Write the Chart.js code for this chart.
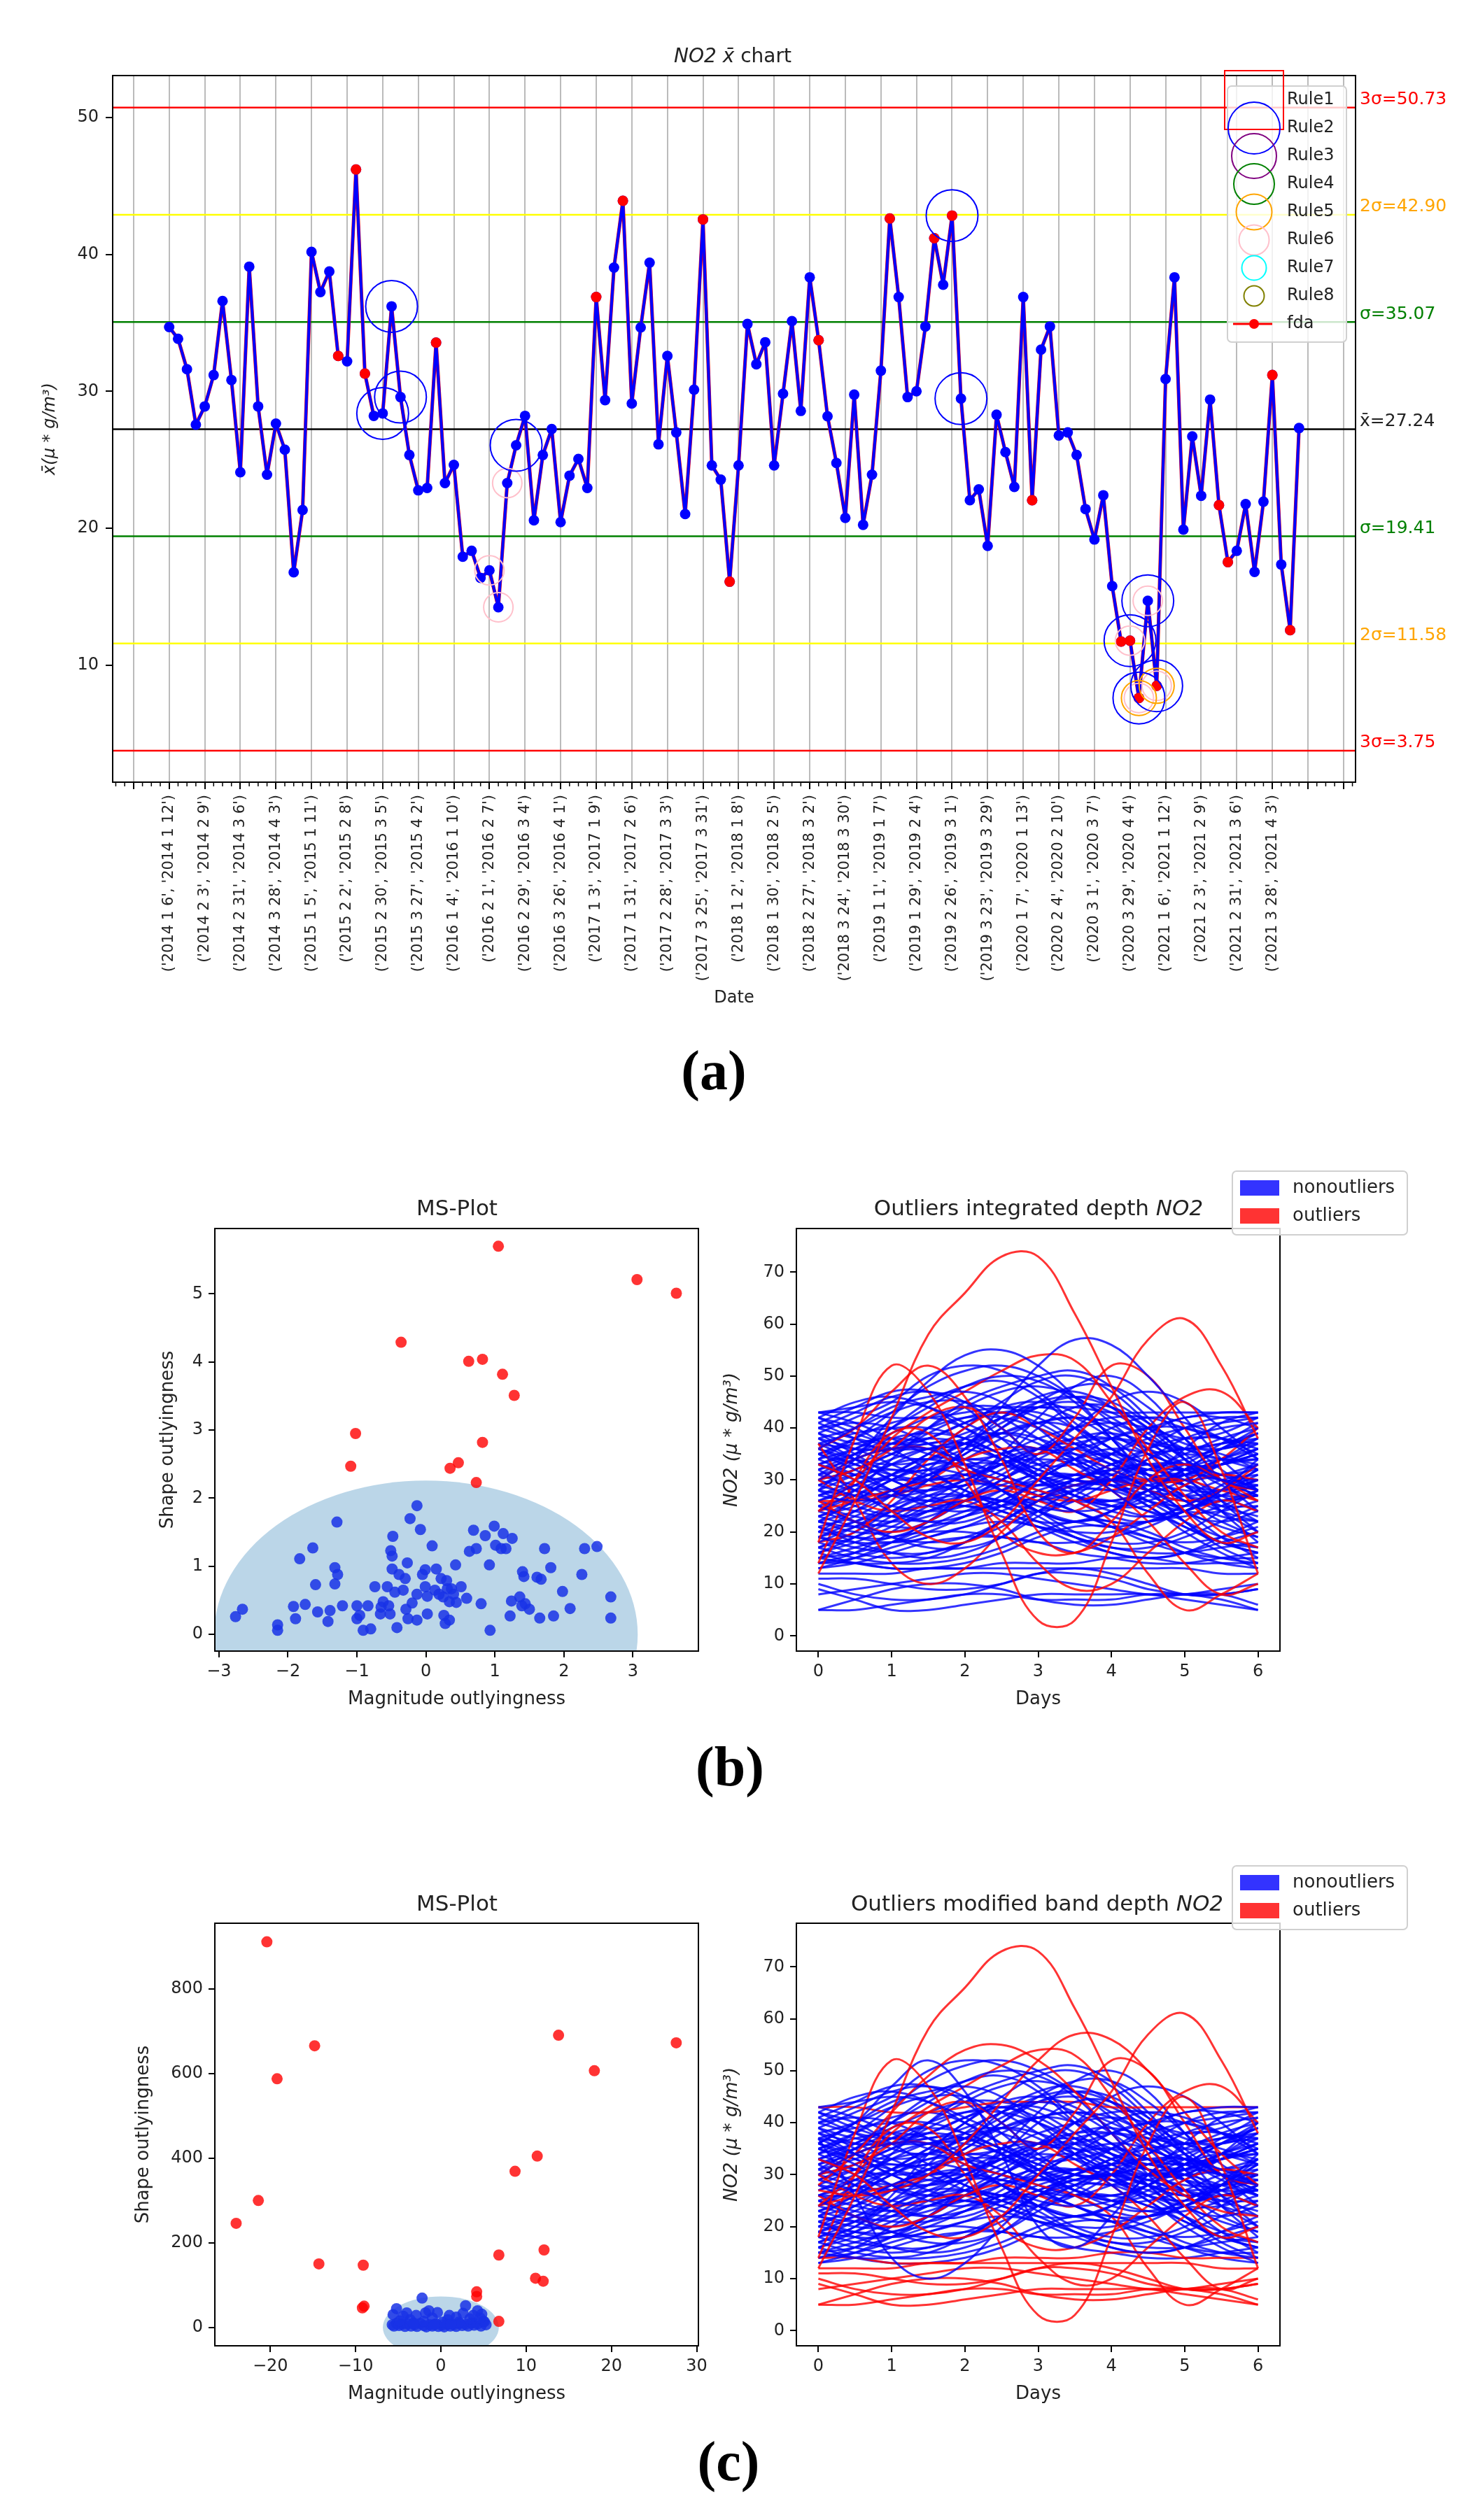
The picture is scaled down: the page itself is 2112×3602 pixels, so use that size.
<!DOCTYPE html>
<html>
<head>
<meta charset="utf-8">
<title>NO2 x̄ chart</title>
<script src="https://cdn.jsdelivr.net/npm/chart.js@4.4.1/dist/chart.umd.min.js"></script>
<style>
  body { margin: 0; width: 2112px; height: 3602px; background: #fff; position: relative; overflow: hidden; font-family: "DejaVu Sans", sans-serif; color: #222; }
  canvas { position: absolute; }
  .txt { position: absolute; transform: translate(-50%, -50%); white-space: nowrap; }
  .panel { font-family: "Liberation Serif", serif; font-weight: bold; font-size: 80px; color: #000; }
</style>
</head>
<body>
<canvas id="xbar" width="2112" height="1470" style="left:0;top:0"></canvas>
<canvas id="msB" width="900" height="790" style="left:150px;top:1690px"></canvas>
<canvas id="curvesB" width="1112" height="830" style="left:1000px;top:1650px"></canvas>
<canvas id="msC" width="900" height="790" style="left:150px;top:2683px"></canvas>
<canvas id="curvesC" width="1112" height="830" style="left:1000px;top:2643px"></canvas>

<div class="txt" style="left:1047px;top:79px;font-size:28px"><i>NO2 x&#772;</i> chart</div>
<div class="txt" style="left:653px;top:1726px;font-size:31px">MS-Plot</div>
<div class="txt" style="left:1484px;top:1726px;font-size:31px">Outliers integrated depth <i>NO2</i></div>
<div class="txt" style="left:653px;top:2720px;font-size:31px">MS-Plot</div>
<div class="txt" style="left:1482px;top:2720px;font-size:31px">Outliers modified band depth <i>NO2</i></div>
<div class="txt panel" style="left:1020px;top:1530px">(a)</div>
<div class="txt panel" style="left:1043px;top:2525px">(b)</div>
<div class="txt panel" style="left:1041px;top:3518px">(c)</div>

<script>
// ---- (a) weekly mean chart ----
const weekLabels = [
  "('2014 1 6', '2014 1 12')", "('2014 2 3', '2014 2 9')", "('2014 2 31', '2014 3 6')", "('2014 3 28', '2014 4 3')",
  "('2015 1 5', '2015 1 11')", "('2015 2 2', '2015 2 8')", "('2015 2 30', '2015 3 5')", "('2015 3 27', '2015 4 2')",
  "('2016 1 4', '2016 1 10')", "('2016 2 1', '2016 2 7')", "('2016 2 29', '2016 3 4')", "('2016 3 26', '2016 4 1')",
  "('2017 1 3', '2017 1 9')", "('2017 1 31', '2017 2 6')", "('2017 2 28', '2017 3 3')", "('2017 3 25', '2017 3 31')",
  "('2018 1 2', '2018 1 8')", "('2018 1 30', '2018 2 5')", "('2018 2 27', '2018 3 2')", "('2018 3 24', '2018 3 30')",
  "('2019 1 1', '2019 1 7')", "('2019 1 29', '2019 2 4')", "('2019 2 26', '2019 3 1')", "('2019 3 23', '2019 3 29')",
  "('2020 1 7', '2020 1 13')", "('2020 2 4', '2020 2 10')", "('2020 3 1', '2020 3 7')", "('2020 3 29', '2020 4 4')",
  "('2021 1 6', '2021 1 12')", "('2021 2 3', '2021 2 9')", "('2021 2 31', '2021 3 6')", "('2021 3 28', '2021 4 3')"
];

const xbarValues = [
  34.70, 33.84, 31.62, 27.57, 28.90, 31.19, 36.60, 30.83, 24.09, 39.11,
  28.90, 23.91, 27.64, 25.74, 16.78, 21.33, 40.19, 37.25, 38.76, 32.59,
  32.19, 46.21, 31.30, 28.21, 28.39, 36.21, 29.58, 25.35, 22.77, 22.94,
  33.56, 23.30, 24.63, 17.92, 18.35, 16.38, 16.92, 14.23, 23.30, 26.06,
  28.21, 20.58, 25.35, 27.25, 20.45, 23.84, 25.06, 22.94, 36.89, 29.36,
  39.04, 43.92, 29.11, 34.67, 39.40, 26.13, 32.59, 27.00, 21.04, 30.12,
  42.56, 24.59, 23.55, 16.10, 24.59, 34.92, 31.98, 33.59, 24.59, 29.83,
  35.13, 28.57, 38.33, 33.74, 28.18, 24.77, 20.76, 29.76, 20.25, 23.91,
  31.51, 42.63, 36.89, 29.58, 30.01, 34.74, 41.19, 37.79, 42.84, 29.47,
  22.05, 22.84, 18.71, 28.29, 25.56, 23.02, 36.89, 22.05, 33.05, 34.74,
  26.78, 27.00, 25.35, 21.40, 19.18, 22.41, 15.77, 11.72, 11.79, 7.60,
  14.70, 8.49, 30.90, 38.33, 19.90, 26.71, 22.37, 29.40, 21.69, 17.53,
  18.35, 21.76, 16.81, 21.94, 31.19, 17.35, 12.55, 27.32
];

const fdaIdx = [19, 21, 22, 30, 48, 51, 60, 63, 73, 81, 86, 88, 97, 107, 108, 109, 111, 118, 119, 124, 126];
const rule2Idx = [24, 25, 26, 39, 88, 89, 108, 109, 110, 111];
const rule5Idx = [109, 111];
const rule6Idx = [36, 37, 38, 108, 109, 110, 111];

const limitValues = [50.73, 42.90, 35.07, 27.24, 19.41, 11.58, 3.75];
const limitLabels = ['3σ=50.73', '2σ=42.90', 'σ=35.07', 'x\u0304=27.24', 'σ=19.41', '2σ=11.58', '3σ=3.75'];
const limitLineColors = ['red', 'yellow', 'green', 'black', 'green', 'yellow', 'red'];
const limitTextColors = ['red', 'orange', 'green', '#222', 'green', 'orange', 'red'];
const yTicksA = [10, 20, 30, 40, 50];

const ruleNames = ['Rule1', 'Rule2', 'Rule3', 'Rule4', 'Rule5', 'Rule6', 'Rule7', 'Rule8', 'fda'];
const ruleColors = ['red', 'blue', 'purple', 'green', 'orange', 'pink', 'cyan', 'olive', 'red'];
const ruleSizes = [42, 37, 32, 29, 25.5, 21.5, 17.5, 14.5, 7];

// ---- (b), (c) MS plots ----
const msInB = [
  [-2.76,0.26],[-2.66,0.37],[-2.15,0.14],[-2.15,0.06],[-1.92,0.41],[-1.89,0.23],[-1.83,1.11],[-1.75,0.44],
  [-1.64,1.27],[-1.60,0.73],[-1.57,0.33],[-1.42,0.19],[-1.39,0.35],[-1.32,0.98],[-1.32,0.74],[-1.28,0.88],
  [-1.29,1.65],[-1.21,0.42],[-1.00,0.42],[-1.00,0.23],[-0.96,0.28],[-0.91,0.06],[-0.84,0.42],[-0.80,0.08],
  [-0.74,0.70],[-0.66,0.30],[-0.62,0.48],[-0.56,0.70],[-0.52,0.30],[-0.51,1.23],[-0.49,1.15],[-0.49,0.96],
  [-0.48,1.44],[-0.45,0.62],[-0.42,0.10],[-0.39,0.88],[-0.30,0.82],[-0.29,0.37],[-0.27,1.05],[-0.26,0.23],
  [-0.23,1.70],[-0.20,0.46],[-0.13,0.21],[-0.13,1.89],[-0.13,0.59],[-0.08,1.54],[-0.05,0.88],[-0.01,0.95],
  [0.02,0.56],[0.02,0.30],[0.09,1.30],[0.15,0.96],[0.19,0.59],[0.22,0.82],[0.25,0.55],[0.26,0.28],
  [0.28,0.16],[0.30,0.79],[0.34,0.21],[0.34,0.48],[0.37,0.67],[0.43,1.02],[0.44,0.47],[0.51,0.70],
  [0.59,0.53],[0.63,1.22],[0.69,1.53],[0.73,1.26],[0.80,0.45],[0.86,1.45],[0.92,1.02],[0.93,0.06],
  [0.99,1.59],[1.01,1.31],[1.09,1.26],[1.12,1.48],[1.16,1.26],[1.25,1.41],[1.22,0.27],[1.24,0.49],
  [1.36,0.55],[1.39,0.42],[1.40,0.92],[1.42,0.85],[1.44,0.45],[1.50,0.37],[1.61,0.84],[1.65,0.24],
  [1.67,0.81],[1.72,1.26],[1.81,0.98],[1.85,0.27],[1.98,0.63],[2.09,0.38],[2.26,0.88],[2.30,1.26],
  [2.48,1.29],[2.68,0.55],[2.68,0.24],[0.13,0.65],[0.40,0.59],[0.31,0.67],[-0.33,0.65],[-0.65,0.40],
  [-0.54,0.42],[-0.01,0.70]
];
const msOutB = [
  [1.05,5.70],[3.06,5.21],[3.63,5.01],[-0.36,4.29],[0.62,4.01],[0.82,4.04],[1.11,3.82],
  [1.28,3.51],[-1.02,2.95],[0.82,2.82],[-1.09,2.47],[0.35,2.44],[0.47,2.52],[0.73,2.23]
];
const msEllipseB = [0, 0, 3.07, 2.26];
const msTicksBX = [-3, -2, -1, 0, 1, 2, 3];
const msTicksBY = [0, 1, 2, 3, 4, 5];

const msInC = [
  [-5.7,6],[-5.5,3],[-5.2,9],[-4.9,4],[-4.6,7],[-4.2,2],[-3.9,8],[-3.5,3],[-3.1,6],[-2.8,2],[-2.4,9],
  [-2.0,4],[-1.7,1],[-1.3,6],[-1.0,3],[-0.6,8],[-0.3,2],[0.1,5],[0.4,1],[0.8,7],[1.1,3],[1.5,6],
  [1.8,2],[2.2,9],[2.5,4],[2.9,7],[3.2,3],[3.6,10],[3.9,5],[4.3,8],[4.7,3],[5.0,14],[5.3,6],
  [-2.2,69],[-5.2,44],[-5.6,30],[-4.4,26],[-2.9,28],[-1.4,39],[-0.4,35],[2.9,51],[2.6,33],[4.3,39],
  [4.8,31],[5.1,13],[-3.6,18],[-1.0,22],[0.8,18],[1.8,24],[3.4,20],[-4.8,15],[2.1,12],[-2.0,14],
  [0.2,12],[1.2,8],[3.8,28],[-3.2,10],[4.6,22],[-0.8,6],[-1.8,34],[1.0,28],[-4.0,34]
];
const msOutC = [
  [-20.4,912],[-24.0,246],[-21.4,300],[-14.8,666],[-19.2,588],[-14.3,150],[-9.1,147],[-9.2,46],
  [-9.0,50],[6.8,171],[6.8,14],[4.2,84],[4.2,73],[8.7,369],[11.3,405],[13.8,691],[18.0,607],
  [27.6,673],[12.1,183],[11.1,116],[12.0,109]
];
const msEllipseC = [0, 0, 6.8, 73];
const msTicksCX = [-20, -10, 0, 10, 20, 30];
const msTicksCY = [0, 200, 400, 600, 800];

// ---- (b), (c) weekly daily curves ----
const days = [0, 0.5, 1, 1.5, 2, 2.5, 3, 3.5, 4, 4.5, 5, 5.5, 6];
const dayTicks = [0, 1, 2, 3, 4, 5, 6];
const no2Ticks = [0, 10, 20, 30, 40, 50, 60, 70];
const curves = [
  [12, 26, 42, 58, 66, 73, 73, 62, 48, 34, 24, 18, 20],
  [43, 44, 45, 44, 41, 38, 36, 36, 38, 40, 42, 43, 43],
  [40, 43, 46, 47, 45, 40, 34, 30, 30, 34, 38, 40, 41],
  [33, 30, 24, 19, 18, 22, 30, 38, 46, 57, 61, 52, 38],
  [38, 34, 30, 28, 30, 34, 40, 44, 44, 40, 34, 30, 28],
  [36, 40, 44, 46, 47, 45, 40, 34, 28, 24, 24, 28, 34],
  [35, 32, 28, 25, 24, 26, 30, 34, 36, 35, 32, 30, 30],
  [18, 38, 52, 47, 33, 16, 3, 3, 18, 36, 45, 32, 12],
  [33, 36, 40, 44, 48, 50, 49, 45, 38, 30, 24, 22, 24],
  [32, 28, 24, 22, 22, 25, 30, 34, 38, 40, 40, 38, 35],
  [30, 34, 36, 36, 33, 28, 24, 22, 24, 28, 32, 34, 33],
  [36, 40, 47, 52, 46, 34, 20, 16, 22, 30, 33, 30, 26],
  [29, 27, 25, 24, 25, 28, 32, 36, 40, 42, 41, 38, 34],
  [28, 34, 42, 49, 54, 55, 52, 46, 38, 31, 26, 23, 22],
  [27, 26, 27, 30, 36, 44, 52, 57, 56, 50, 42, 34, 28],
  [26, 29, 33, 36, 37, 35, 31, 27, 24, 23, 25, 29, 33],
  [24, 30, 38, 43, 47, 51, 54, 53, 45, 36, 27, 20, 17],
  [25, 22, 19, 17, 17, 19, 23, 27, 31, 33, 33, 31, 28],
  [24, 28, 34, 40, 45, 48, 50, 51, 48, 42, 34, 26, 20],
  [23, 21, 19, 18, 19, 22, 26, 30, 32, 32, 30, 26, 22],
  [30, 32, 36, 42, 44, 40, 35, 42, 52, 50, 40, 30, 28],
  [22, 26, 30, 32, 31, 28, 24, 20, 18, 18, 20, 24, 28],
  [21, 18, 16, 15, 16, 19, 24, 28, 30, 29, 26, 22, 19],
  [20, 24, 28, 30, 30, 28, 25, 24, 25, 28, 32, 36, 40],
  [26, 22, 20, 22, 26, 28, 26, 24, 30, 40, 46, 47, 40],
  [19, 17, 16, 16, 18, 22, 26, 29, 30, 28, 24, 19, 15],
  [18, 21, 25, 30, 36, 42, 46, 47, 44, 38, 31, 24, 18],
  [17, 15, 14, 14, 15, 17, 20, 22, 22, 20, 17, 15, 14],
  [14, 30, 39, 39, 30, 20, 16, 16, 19, 24, 29, 31, 30],
  [16, 19, 23, 26, 27, 26, 24, 22, 21, 22, 24, 27, 30],
  [15, 14, 14, 15, 18, 22, 26, 28, 28, 25, 20, 16, 13],
  [14, 16, 20, 24, 26, 26, 23, 19, 16, 15, 16, 18, 20],
  [37, 26, 14, 10, 13, 20, 26, 29, 30, 28, 26, 28, 33],
  [13, 15, 18, 22, 26, 30, 33, 34, 32, 28, 22, 17, 14],
  [42, 40, 36, 32, 28, 26, 26, 28, 32, 36, 40, 42, 42],
  [41, 44, 47, 47, 44, 38, 33, 30, 30, 32, 34, 36, 37],
  [30, 34, 36, 36, 32, 30, 28, 26, 22, 12, 5, 8, 12],
  [39, 42, 45, 50, 52, 51, 47, 41, 36, 33, 32, 33, 35],
  [37, 34, 32, 32, 35, 40, 45, 48, 48, 44, 38, 32, 28],
  [34, 38, 43, 48, 51, 52, 50, 46, 42, 38, 36, 34, 32],
  [24, 26, 28, 30, 34, 36, 36, 32, 28, 22, 14, 8, 10],
  [31, 35, 40, 45, 48, 49, 46, 40, 34, 28, 22, 18, 16],
  [27, 30, 33, 34, 32, 28, 24, 22, 24, 30, 36, 41, 43],
  [22, 20, 20, 22, 26, 30, 35, 40, 45, 47, 45, 40, 34],
  [30, 26, 24, 25, 26, 22, 14, 9, 10, 16, 22, 26, 24],
  [20, 19, 19, 22, 28, 35, 42, 48, 50, 46, 38, 30, 24],
  [33, 30, 27, 26, 27, 30, 34, 37, 38, 37, 36, 37, 39],
  [29, 31, 32, 31, 28, 25, 24, 26, 30, 34, 36, 35, 32],
  [18, 20, 26, 34, 40, 43, 40, 36, 32, 30, 30, 34, 40],
  [35, 37, 38, 37, 34, 31, 29, 30, 33, 36, 38, 38, 36],
  [25, 23, 22, 23, 26, 29, 31, 31, 29, 26, 24, 24, 26],
  [19, 22, 25, 27, 27, 25, 22, 19, 17, 17, 19, 22, 25],
  [26, 26, 27, 29, 30, 29, 27, 26, 28, 30, 30, 28, 26],
  [38, 36, 33, 30, 27, 24, 22, 22, 24, 27, 30, 33, 36],
  [17, 19, 22, 26, 30, 33, 34, 33, 30, 26, 22, 19, 17],
  [14, 14, 13, 13, 13, 14, 14, 14, 15, 15, 14, 14, 14],
  [40, 38, 37, 38, 41, 44, 45, 43, 39, 35, 33, 33, 35],
  [32, 34, 37, 40, 42, 42, 40, 37, 34, 32, 31, 31, 32],
  [21, 23, 27, 32, 38, 42, 44, 42, 38, 33, 29, 27, 27],
  [5, 5, 6, 7, 8, 8, 7, 7, 7, 8, 8, 7, 5],
  [5, 7, 9, 10, 10, 9, 7, 6, 6, 7, 8, 8, 6],
  [9, 7, 5, 5, 6, 7, 8, 8, 8, 8, 7, 6, 5],
  [10, 8, 7, 7, 8, 10, 12, 12, 11, 9, 8, 8, 9],
  [11, 11, 10, 9, 9, 10, 12, 13, 12, 10, 8, 8, 9],
  [8, 9, 10, 11, 12, 12, 11, 10, 9, 8, 8, 9, 10],
  [43, 43, 42, 42, 43, 44, 44, 44, 43, 43, 43, 43, 43],
  [12, 12, 12, 13, 13, 13, 13, 13, 13, 13, 13, 12, 12],
  [16, 14, 13, 13, 14, 16, 19, 21, 21, 19, 16, 14, 13],
  [43, 41, 38, 35, 34, 35, 38, 40, 41, 40, 38, 39, 42],
  [39, 37, 36, 36, 37, 39, 41, 42, 41, 38, 35, 36, 39],
  [15, 17, 19, 20, 20, 19, 18, 18, 19, 21, 24, 26, 27],
  [36, 33, 31, 30, 31, 33, 35, 35, 33, 30, 28, 28, 30],
  [23, 26, 30, 33, 34, 33, 30, 27, 25, 25, 27, 30, 31],
  [28, 25, 23, 22, 23, 25, 28, 30, 32, 33, 32, 30, 29],
  [34, 31, 28, 26, 26, 28, 30, 31, 30, 28, 27, 28, 31],
  [31, 29, 28, 28, 30, 33, 36, 38, 38, 36, 33, 31, 30],
  [42, 45, 46, 44, 40, 36, 33, 33, 35, 38, 40, 41, 42],
  [41, 38, 35, 34, 36, 40, 44, 46, 45, 41, 37, 36, 38],
  [40, 41, 40, 37, 33, 30, 29, 31, 35, 39, 42, 42, 40],
  [39, 35, 31, 29, 29, 32, 36, 40, 42, 42, 40, 38, 37],
  [38, 40, 43, 45, 45, 42, 38, 34, 31, 30, 31, 34, 38],
  [37, 39, 40, 40, 38, 35, 32, 30, 29, 30, 33, 37, 41],
  [36, 34, 33, 34, 37, 41, 44, 45, 43, 39, 34, 30, 27],
  [35, 38, 41, 42, 40, 36, 31, 27, 25, 26, 29, 33, 36],
  [34, 36, 39, 42, 44, 44, 42, 38, 34, 31, 30, 31, 33],
  [33, 31, 30, 31, 34, 38, 41, 42, 40, 36, 31, 27, 24],
  [32, 35, 38, 39, 38, 35, 32, 30, 30, 32, 35, 38, 40],
  [31, 33, 36, 40, 44, 47, 48, 46, 41, 35, 29, 25, 23],
  [30, 28, 27, 28, 31, 34, 36, 36, 34, 31, 29, 28, 29],
  [29, 32, 35, 37, 37, 34, 30, 26, 23, 22, 24, 28, 32],
  [28, 27, 28, 31, 35, 39, 41, 40, 36, 31, 27, 25, 25],
  [27, 29, 31, 33, 33, 31, 28, 26, 26, 28, 31, 34, 36],
  [26, 24, 23, 24, 27, 31, 35, 38, 39, 37, 33, 29, 26],
  [25, 27, 30, 34, 37, 39, 38, 35, 31, 28, 26, 27, 29],
  [24, 22, 21, 21, 23, 26, 29, 31, 31, 29, 27, 26, 27],
  [23, 25, 28, 31, 33, 33, 31, 28, 25, 23, 23, 25, 28],
  [22, 24, 27, 30, 31, 30, 27, 24, 22, 22, 24, 28, 32],
  [21, 19, 18, 19, 21, 24, 27, 29, 29, 27, 24, 21, 19],
  [20, 22, 24, 25, 25, 23, 21, 20, 20, 22, 25, 28, 30],
  [19, 21, 24, 28, 32, 35, 36, 34, 30, 25, 21, 18, 17],
  [18, 16, 15, 16, 18, 21, 24, 26, 26, 24, 21, 18, 16],
  [17, 20, 24, 27, 29, 29, 27, 24, 21, 19, 18, 19, 21],
  [16, 18, 21, 24, 25, 24, 21, 18, 16, 15, 16, 19, 22],
  [15, 16, 18, 21, 24, 26, 26, 24, 21, 18, 16, 15, 15],
  [14, 15, 17, 19, 21, 22, 21, 19, 17, 16, 16, 17, 18],
  [13, 14, 16, 18, 19, 19, 18, 16, 15, 14, 14, 15, 16],
  [42, 39, 37, 37, 39, 42, 45, 46, 44, 40, 36, 34, 34],
  [37, 36, 36, 38, 41, 43, 43, 40, 36, 33, 32, 34, 37],
  [30, 32, 35, 39, 42, 43, 41, 37, 33, 31, 31, 33, 35],
  [26, 28, 31, 35, 40, 45, 49, 50, 47, 41, 35, 30, 27],
  [22, 21, 22, 25, 29, 33, 36, 37, 35, 31, 27, 24, 22],
  [35, 33, 30, 27, 25, 25, 27, 30, 33, 35, 36, 37, 38],
  [28, 31, 34, 36, 36, 34, 31, 29, 28, 29, 31, 33, 34],
  [24, 27, 31, 35, 38, 39, 37, 33, 29, 26, 25, 26, 28],
  [33, 35, 37, 38, 37, 34, 30, 27, 26, 28, 32, 36, 39],
  [19, 18, 18, 20, 23, 27, 31, 34, 35, 33, 29, 24, 20]
];
const outIntegrated = [0, 3, 7, 11, 16, 20, 24, 28, 32, 36, 40, 44, 48, 52];
const outModBand = [0, 3, 7, 13, 14, 16, 20, 24, 28, 36, 40, 44, 55, 59, 60, 61, 62, 63, 64, 65, 66];

const BLUE = 'rgba(0,0,255,0.8)';
const RED = 'rgba(255,0,0,0.8)';

Chart.defaults.font.family = 'DejaVu Sans';
Chart.defaults.color = '#222';
Chart.defaults.animation = false;
Chart.defaults.events = [];
Chart.defaults.plugins.legend.display = false;
Chart.defaults.plugins.tooltip.enabled = false;

const fmt = v => String(v).replace('-', '\u2212');

const frame = {
  id: 'frame',
  afterDraw(chart) {
    const { ctx, chartArea: a } = chart;
    ctx.save();
    ctx.strokeStyle = '#000';
    ctx.lineWidth = 2;
    ctx.strokeRect(a.left, a.top, a.width, a.height);
    ctx.restore();
  }
};

const controlLines = {
  id: 'controlLines',
  beforeDatasetsDraw(chart) {
    const { ctx, chartArea: a, scales: { y } } = chart;
    ctx.save();
    ctx.lineWidth = 2.5;
    limitValues.forEach((v, i) => {
      const py = y.getPixelForValue(v);
      ctx.strokeStyle = limitLineColors[i];
      ctx.beginPath();
      ctx.moveTo(a.left, py);
      ctx.lineTo(a.right, py);
      ctx.stroke();
    });
    ctx.restore();
  }
};

// one small tick for every week between the labelled ones
const minorTicks = {
  id: 'minorTicks',
  afterDraw(chart) {
    const { ctx, chartArea: a, scales: { x } } = chart;
    ctx.save();
    ctx.strokeStyle = '#000';
    ctx.lineWidth = 1.5;
    for (let i = Math.ceil(x.min); i <= Math.floor(x.max); i++) {
      if (i % 4 === 0) continue;
      const px = x.getPixelForValue(i);
      ctx.beginPath();
      ctx.moveTo(px, a.bottom);
      ctx.lineTo(px, a.bottom + 6);
      ctx.stroke();
    }
    ctx.restore();
  }
};

const ruleLegend = {
  id: 'ruleLegend',
  afterDraw(chart) {
    const { ctx, chartArea: a } = chart;
    ctx.save();
    ctx.beginPath();
    ctx.roundRect(a.right - 183, a.top + 15, 170, 366, 6);
    ctx.fillStyle = 'rgba(255,255,255,0.8)';
    ctx.fill();
    ctx.strokeStyle = '#d0d0d0';
    ctx.lineWidth = 2;
    ctx.stroke();
    ctx.font = '24px "DejaVu Sans"';
    ctx.textBaseline = 'middle';
    ruleNames.forEach((name, k) => {
      const cy = a.top + 35 + k * 40;
      const cx = a.right - 145;
      const r = ruleSizes[k];
      ctx.strokeStyle = ruleColors[k];
      ctx.fillStyle = ruleColors[k];
      ctx.lineWidth = 2;
      if (name === 'Rule1') {
        ctx.strokeRect(cx - r, cy - r, 2 * r, 2 * r);
      } else if (name === 'fda') {
        ctx.lineWidth = 3;
        ctx.beginPath();
        ctx.moveTo(cx - 30, cy);
        ctx.lineTo(cx + 26, cy);
        ctx.stroke();
        ctx.beginPath();
        ctx.arc(cx, cy, r, 0, 2 * Math.PI);
        ctx.fill();
      } else {
        ctx.beginPath();
        ctx.arc(cx, cy, r, 0, 2 * Math.PI);
        ctx.stroke();
      }
      ctx.fillStyle = '#222';
      ctx.fillText(name, a.right - 98, cy);
    });
    ctx.restore();
  }
};

function ellipse(params) {
  const [cx, cy, ax, by] = params;
  return {
    id: 'ellipse',
    beforeDatasetsDraw(chart) {
      const { ctx, chartArea: a, scales: { x, y } } = chart;
      const px = x.getPixelForValue(cx), py = y.getPixelForValue(cy);
      const rx = Math.abs(x.getPixelForValue(cx + ax) - px);
      const ry = Math.abs(y.getPixelForValue(cy + by) - py);
      ctx.save();
      ctx.beginPath();
      ctx.rect(a.left, a.top, a.width, a.height);
      ctx.clip();
      ctx.beginPath();
      ctx.ellipse(px, py, rx, ry, 0, 0, 2 * Math.PI);
      ctx.fillStyle = 'rgba(31,119,180,0.3)';
      ctx.fill();
      ctx.restore();
    }
  };
}

const patchLegend = {
  id: 'patchLegend',
  afterDraw(chart) {
    const { ctx, chartArea: a } = chart;
    ctx.save();
    ctx.beginPath();
    ctx.roundRect(a.right - 68, a.top - 82, 250, 91, 6);
    ctx.fillStyle = 'rgba(255,255,255,0.8)';
    ctx.fill();
    ctx.strokeStyle = '#d0d0d0';
    ctx.lineWidth = 2;
    ctx.stroke();
    ctx.font = '26px "DejaVu Sans"';
    ctx.textBaseline = 'middle';
    [['nonoutliers', BLUE], ['outliers', RED]].forEach(([label, color], k) => {
      const cy = a.top - 58 + k * 40;
      ctx.fillStyle = color;
      ctx.fillRect(a.right - 57, cy - 11, 56, 22);
      ctx.fillStyle = '#222';
      ctx.fillText(label, a.right + 18, cy);
    });
    ctx.restore();
  }
};

function bottomAxis(min, max, ticks, height, title, titlePad) {
  return {
    type: 'linear', min, max,
    afterBuildTicks: s => { s.ticks = ticks.map(v => ({ value: v })); },
    afterFit: s => { s.height = height; },
    grid: { drawOnChartArea: false, tickLength: 9, color: '#000', tickColor: '#000', lineWidth: 2 },
    border: { display: false },
    ticks: { font: { size: 24 }, padding: 6, autoSkip: false, maxRotation: 0, callback: v => fmt(v) },
    title: { display: true, text: title, font: { size: 26 }, padding: { top: 0, bottom: titlePad } }
  };
}

function leftAxis(min, max, ticks, width, title, titlePad, italic) {
  return {
    type: 'linear', min, max,
    afterBuildTicks: s => { s.ticks = ticks.map(v => ({ value: v })); },
    afterFit: s => { s.width = width; },
    grid: { drawOnChartArea: false, tickLength: 9, color: '#000', tickColor: '#000', lineWidth: 2 },
    border: { display: false },
    ticks: { font: { size: 24 }, padding: 8, autoSkip: false, callback: v => fmt(v) },
    title: { display: true, text: title, font: { size: 26, style: italic ? 'italic' : 'normal' }, padding: { top: titlePad, bottom: 0 } }
  };
}

// ---------- (a) ----------
const xbarPts = xbarValues.map((v, i) => ({ x: i, y: v }));
const pick = idx => idx.map(i => ({ x: i, y: xbarValues[i] }));
const majorTicks = [];
for (let k = -1; k <= 33; k++) majorTicks.push(k * 4);

function ring(idx, radius, color) {
  return {
    data: pick(idx), pointRadius: radius, pointBorderWidth: 2,
    pointBorderColor: color, pointBackgroundColor: 'rgba(0,0,0,0)', order: 0
  };
}

new Chart(document.getElementById('xbar'), {
  type: 'scatter',
  data: {
    datasets: [
      ring(rule2Idx, 37, 'blue'),
      ring(rule5Idx, 25, 'orange'),
      ring(rule6Idx, 21, 'pink'),
      { data: pick(fdaIdx), pointRadius: 7.5, pointBorderWidth: 0, pointBackgroundColor: 'red', order: 1 },
      { data: xbarPts, showLine: true, borderColor: 'blue', borderWidth: 4, borderJoinStyle: 'round',
        pointRadius: 7.5, pointBorderWidth: 0, pointBackgroundColor: 'blue', order: 2 },
      { data: xbarPts, showLine: true, borderColor: 'red', borderWidth: 5, borderJoinStyle: 'round',
        pointRadius: 0, order: 3 }
    ]
  },
  options: {
    responsive: false,
    devicePixelRatio: 1,
    layout: { padding: { top: 108, left: 0, right: 0, bottom: 0 } },
    scales: {
      x: {
        type: 'linear', min: -6.35, max: 133.35,
        afterBuildTicks: s => { s.ticks = majorTicks.map(v => ({ value: v })); },
        afterFit: s => { s.height = 352; },
        grid: { color: 'rgba(120,120,120,0.5)', lineWidth: 2, tickColor: '#000', tickLength: 10 },
        border: { display: false },
        ticks: { autoSkip: false, minRotation: 90, maxRotation: 90, font: { size: 21 }, padding: 8,
                 callback: v => weekLabels[v / 4] || '' },
        title: { display: true, text: 'Date', font: { size: 24 }, padding: { top: 0, bottom: 29 } }
      },
      y: {
        type: 'linear', min: 1.45, max: 53.07,
        afterBuildTicks: s => { s.ticks = yTicksA.map(v => ({ value: v })); },
        afterFit: s => { s.width = 161; },
        grid: { drawOnChartArea: false, tickLength: 10, color: '#000', tickColor: '#000', lineWidth: 2 },
        border: { display: false },
        ticks: { font: { size: 24 }, padding: 10 },
        title: { display: true, text: 'x\u0304(μ * g/m³)', font: { size: 24, style: 'italic' }, padding: { top: 57, bottom: 0 } }
      },
      y2: {
        type: 'linear', position: 'right', min: 1.45, max: 53.07,
        afterBuildTicks: s => { s.ticks = limitValues.map(v => ({ value: v })); },
        afterFit: s => { s.width = 175; },
        grid: { display: false, drawTicks: false },
        border: { display: false },
        ticks: { autoSkip: false, font: { size: 25 }, padding: 6, labelOffset: -11,
                 color: c => limitTextColors[c.index], callback: (v, i) => limitLabels[i] }
      }
    }
  },
  plugins: [controlLines, minorTicks, frame, ruleLegend]
});

// ---------- MS plots ----------
function msChart(id, inPts, outPts, ell, xr, yr, xt, yt, yWidth, yTitlePad) {
  new Chart(document.getElementById(id), {
    type: 'scatter',
    data: {
      datasets: [
        { data: outPts.map(p => ({ x: p[0], y: p[1] })), pointRadius: 8, pointBorderWidth: 0, pointBackgroundColor: RED },
        { data: inPts.map(p => ({ x: p[0], y: p[1] })), pointRadius: 8, pointBorderWidth: 0, pointBackgroundColor: 'rgba(25,50,230,0.85)' }
      ]
    },
    options: {
      responsive: false,
      devicePixelRatio: 1,
      layout: { padding: { top: 66, left: 0, right: 52, bottom: 0 } },
      scales: {
        x: bottomAxis(xr[0], xr[1], xt, 120, 'Magnitude outlyingness', 35),
        y: leftAxis(yr[0], yr[1], yt, yWidth, 'Shape outlyingness', yTitlePad, false)
      }
    },
    plugins: [ellipse(ell), frame]
  });
}

msChart('msB', msInB, msOutB, msEllipseB, [-3.06, 3.95], [-0.245, 5.96], msTicksBX, msTicksBY, 157, 75);
msChart('msC', msInC, msOutC, msEllipseC, [-26.5, 30.2], [-43.8, 956], msTicksCX, msTicksCY, 157, 40);

// ---------- curve plots ----------
function curveChart(id, outliers) {
  const sets = curves.map((c, k) => ({
    data: days.map((d, j) => ({ x: d, y: c[j] })),
    showLine: true, pointRadius: 0, borderWidth: 3, tension: 0.4,
    borderColor: outliers.includes(k) ? RED : BLUE
  }));
  new Chart(document.getElementById(id), {
    type: 'scatter',
    data: { datasets: sets },
    options: {
      responsive: false,
      devicePixelRatio: 1,
      layout: { padding: { top: 106, left: 0, right: 283, bottom: 0 } },
      scales: {
        x: bottomAxis(-0.3, 6.3, dayTicks, 120, 'Days', 35),
        y: leftAxis(-2.92, 78.4, no2Ticks, 138, 'NO2 (μ * g/m³)', 31, true)
      }
    },
    plugins: [frame, patchLegend]
  });
}

curveChart('curvesB', outIntegrated);
curveChart('curvesC', outModBand);
</script>
</body>
</html>
